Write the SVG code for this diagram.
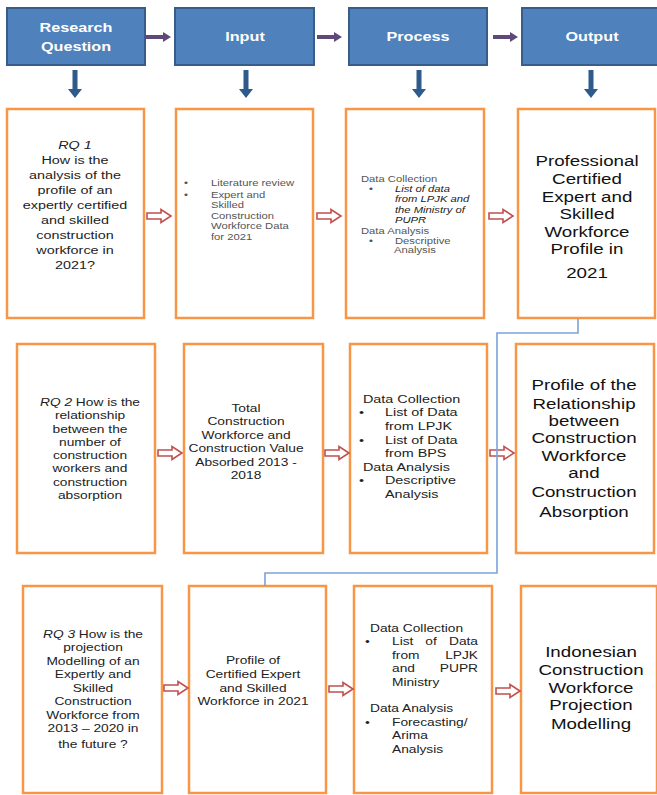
<svg xmlns="http://www.w3.org/2000/svg" xmlns:xlink="http://www.w3.org/1999/xlink" width="657" height="795" viewBox="0 0 657 795">
<style>
.hb{fill:#4F81BD;stroke:#385D8A;stroke-width:2}
.ob{fill:#fff;stroke:#F79646;stroke-width:2.5}
.ht{font-family:"Liberation Sans",Arial,sans-serif;font-weight:bold;font-size:13.5px;fill:#fff;text-anchor:middle}
.t{font-family:"Liberation Sans",Arial,sans-serif;fill:#222}
.c{text-anchor:middle}
.s9{font-size:9px;fill:#555}
.s11{font-size:11px}
.s115{font-size:11.5px}
.big{font-size:15px;fill:#111}
.it{font-style:italic}
.dk{fill:#222}
.ra{fill:#fff;stroke:#C0504D;stroke-width:1.6}
.pa{fill:#5F497A}
.da{fill:#2E5A8C}
.conn{fill:none;stroke:#7BA3D8;stroke-width:1.6}
</style>
<defs>
<path id="ra" d="M0,-3 H14 V-6.5 L24,0 L14,6.5 V3 H0 Z"/>
<path id="pa" d="M0,-2 H17 V-5 L25,0 L17,5 V2 H0 Z"/>
<path id="da" d="M-2.5,0 V19 H-7 L0,28 L7,19 H2.5 V0 Z"/>
</defs>

<!-- header -->
<g id="h-rq"><rect class="hb" x="7" y="8" width="138" height="57"/>
<g transform="matrix(1.2 0 0 1 76 0)"><text class="ht" x="0" y="32">Research</text><text class="ht" x="0" y="51">Question</text></g></g>
<g id="h-input"><rect class="hb" x="175" y="8" width="139" height="57"/>
<g transform="matrix(1.2 0 0 1 245 0)"><text class="ht" x="0" y="41">Input</text></g></g>
<g id="h-process"><rect class="hb" x="349" y="8" width="138" height="57"/>
<g transform="matrix(1.2 0 0 1 418 0)"><text class="ht" x="0" y="41">Process</text></g></g>
<g id="h-output"><rect class="hb" x="522" y="8" width="142" height="57"/>
<g transform="matrix(1.2 0 0 1 592 0)"><text class="ht" x="0" y="41">Output</text></g></g>

<!-- row 1 -->
<g id="rq1"><rect class="ob" x="7" y="109" width="137" height="209"/>
<g class="t s115 c" transform="matrix(1.25 0 0 1 75 0)">
<text x="0" y="149" class="it">RQ 1</text>
<text x="0" y="164">How is the</text>
<text x="0" y="179">analysis of the</text>
<text x="0" y="194">profile of an</text>
<text x="0" y="209">expertly certified</text>
<text x="0" y="224">and skilled</text>
<text x="0" y="239">construction</text>
<text x="0" y="254">workforce in</text>
<text x="0" y="269">2021?</text>
</g></g>
<g id="in1"><rect class="ob" x="176" y="109" width="137" height="209"/>
<g class="t s9" transform="matrix(1.25 0 0 1 184 0)">
<text x="0" y="186">•</text><text x="21.6" y="186">Literature review</text>
<text x="0" y="198">•</text><text x="21.6" y="198">Expert and</text>
<text x="21.6" y="208.5">Skilled</text>
<text x="21.6" y="219">Construction</text>
<text x="21.6" y="229.5">Workforce Data</text>
<text x="21.6" y="240">for 2021</text>
</g></g>
<g id="pr1"><rect class="ob" x="346" y="109" width="138" height="209"/>
<g class="t s9" transform="matrix(1.25 0 0 1 361 0)">
<text x="0" y="182">Data Collection</text>
<text x="6.4" y="192">•</text>
<text x="27.2" y="192" class="it dk">List of data</text>
<text x="27.2" y="202.5" class="it dk">from LPJK and</text>
<text x="27.2" y="213" class="it dk">the Ministry of</text>
<text x="27.2" y="223.5" class="it dk">PUPR</text>
<text x="0" y="234">Data Analysis</text>
<text x="6.4" y="244">•</text><text x="27.2" y="244">Descriptive</text>
<text x="26.4" y="253.5">Analysis</text>
</g></g>
<g id="out1"><rect class="ob" x="518" y="109" width="137" height="209"/>
<g class="t big c" transform="matrix(1.25 0 0 1 587 0)">
<text x="0" y="166.5">Professional</text>
<text x="0" y="184.5">Certified</text>
<text x="0" y="202.5">Expert and</text>
<text x="0" y="219">Skilled</text>
<text x="0" y="237">Workforce</text>
<text x="0" y="254">Profile in</text>
<text x="0" y="278">2021</text>
</g></g>

<!-- row 2 -->
<g id="rq2"><rect class="ob" x="17" y="344" width="138" height="209"/>
<g class="t s11 c" transform="matrix(1.25 0 0 1 90 0)">
<text x="0" y="406"><tspan class="it">RQ 2</tspan> How is the</text>
<text x="0" y="419.3">relationship</text>
<text x="0" y="432.6">between the</text>
<text x="0" y="445.9">number of</text>
<text x="0" y="459.2">construction</text>
<text x="0" y="472.5">workers and</text>
<text x="0" y="485.8">construction</text>
<text x="0" y="499.1">absorption</text>
</g></g>
<g id="in2"><rect class="ob" x="184" y="344" width="139" height="209"/>
<g class="t s11 c" transform="matrix(1.25 0 0 1 246 0)">
<text x="0" y="412">Total</text>
<text x="0" y="425.4">Construction</text>
<text x="0" y="438.8">Workforce and</text>
<text x="0" y="452.2">Construction Value</text>
<text x="0" y="465.6">Absorbed 2013 -</text>
<text x="0" y="479">2018</text>
</g></g>
<g id="pr2"><rect class="ob" x="350" y="344" width="137" height="209"/>
<g class="t s115" transform="matrix(1.25 0 0 1 359 0)">
<text x="3.2" y="403">Data Collection</text>
<text x="0" y="416.5">•</text><text x="20.8" y="416.5">List of Data</text>
<text x="20.8" y="430">from LPJK</text>
<text x="0" y="444">•</text><text x="20.8" y="444">List of Data</text>
<text x="20.8" y="457.5">from BPS</text>
<text x="3.2" y="471">Data Analysis</text>
<text x="0" y="484.5">•</text><text x="20.8" y="484.5">Descriptive</text>
<text x="20.8" y="498">Analysis</text>
</g></g>
<g id="out2"><rect class="ob" x="516" y="344" width="138" height="209"/>
<g class="t big c" transform="matrix(1.25 0 0 1 584 0)">
<text x="0" y="390.5">Profile of the</text>
<text x="0" y="408.5">Relationship</text>
<text x="0" y="426.5">between</text>
<text x="0" y="443">Construction</text>
<text x="0" y="461.5">Workforce</text>
<text x="0" y="478.5">and</text>
<text x="0" y="497.5">Construction</text>
<text x="0" y="517.5">Absorption</text>
</g></g>

<!-- row 3 -->
<g id="rq3"><rect class="ob" x="23" y="586" width="139" height="207"/>
<g class="t s11 c" transform="matrix(1.25 0 0 1 93 0)">
<text x="0" y="638"><tspan class="it">RQ 3</tspan> How is the</text>
<text x="0" y="651.5">projection</text>
<text x="0" y="665">Modelling of an</text>
<text x="0" y="678.5">Expertly and</text>
<text x="0" y="692">Skilled</text>
<text x="0" y="705.5">Construction</text>
<text x="0" y="719">Workforce from</text>
<text x="0" y="732.5">2013 – 2020 in</text>
<text x="0" y="748">the future ?</text>
</g></g>
<g id="in3"><rect class="ob" x="189" y="586" width="137" height="207"/>
<g class="t s11 c" transform="matrix(1.25 0 0 1 253 0)">
<text x="0" y="664">Profile of</text>
<text x="0" y="678">Certified Expert</text>
<text x="0" y="692">and Skilled</text>
<text x="0" y="705.5">Workforce in 2021</text>
</g></g>
<g id="pr3"><rect class="ob" x="354" y="586" width="138" height="207"/>
<g class="t s11" transform="matrix(1.25 0 0 1 365 0)">
<text x="4" y="632">Data Collection</text>
<text x="0" y="645.5">•</text><text x="21.6" y="645.5">List</text><text x="52.8" y="645.5" text-anchor="middle">of</text><text x="90.4" y="645.5" text-anchor="end">Data</text>
<text x="21.6" y="659">from</text><text x="90.4" y="659" text-anchor="end">LPJK</text>
<text x="21.6" y="672.5">and</text><text x="90.4" y="672.5" text-anchor="end">PUPR</text>
<text x="21.6" y="686">Ministry</text>
<text x="4" y="712">Data Analysis</text>
<text x="0" y="726">•</text><text x="21.6" y="726">Forecasting/</text>
<text x="21.6" y="739.5">Arima</text>
<text x="21.6" y="753">Analysis</text>
</g></g>
<g id="out3"><rect class="ob" x="521" y="586" width="136" height="207"/>
<g class="t big c" transform="matrix(1.25 0 0 1 591 0)">
<text x="0" y="657.5">Indonesian</text>
<text x="0" y="675">Construction</text>
<text x="0" y="693.5">Workforce</text>
<text x="0" y="710">Projection</text>
<text x="0" y="729">Modelling</text>
</g></g>

<!-- connectors -->
<g id="connectors">
<use href="#pa" class="pa" x="146" y="37"/>
<use href="#pa" class="pa" x="317" y="37"/>
<use href="#pa" class="pa" x="493" y="37"/>
<use href="#da" class="da" x="75" y="70"/>
<use href="#da" class="da" x="246" y="70"/>
<use href="#da" class="da" x="419" y="70"/>
<use href="#da" class="da" x="591" y="70"/>
<use href="#ra" class="ra" x="147" y="216"/>
<use href="#ra" class="ra" x="317" y="216"/>
<use href="#ra" class="ra" x="489" y="216"/>
<use href="#ra" class="ra" x="158" y="453"/>
<use href="#ra" class="ra" x="325" y="453"/>
<use href="#ra" class="ra" x="490" y="453"/>
<use href="#ra" class="ra" x="164" y="688"/>
<use href="#ra" class="ra" x="329" y="689"/>
<use href="#ra" class="ra" x="496" y="691"/>
<path class="conn" d="M578,319 V333 H497 V573 H265 V586"/>
</g>
</svg>
